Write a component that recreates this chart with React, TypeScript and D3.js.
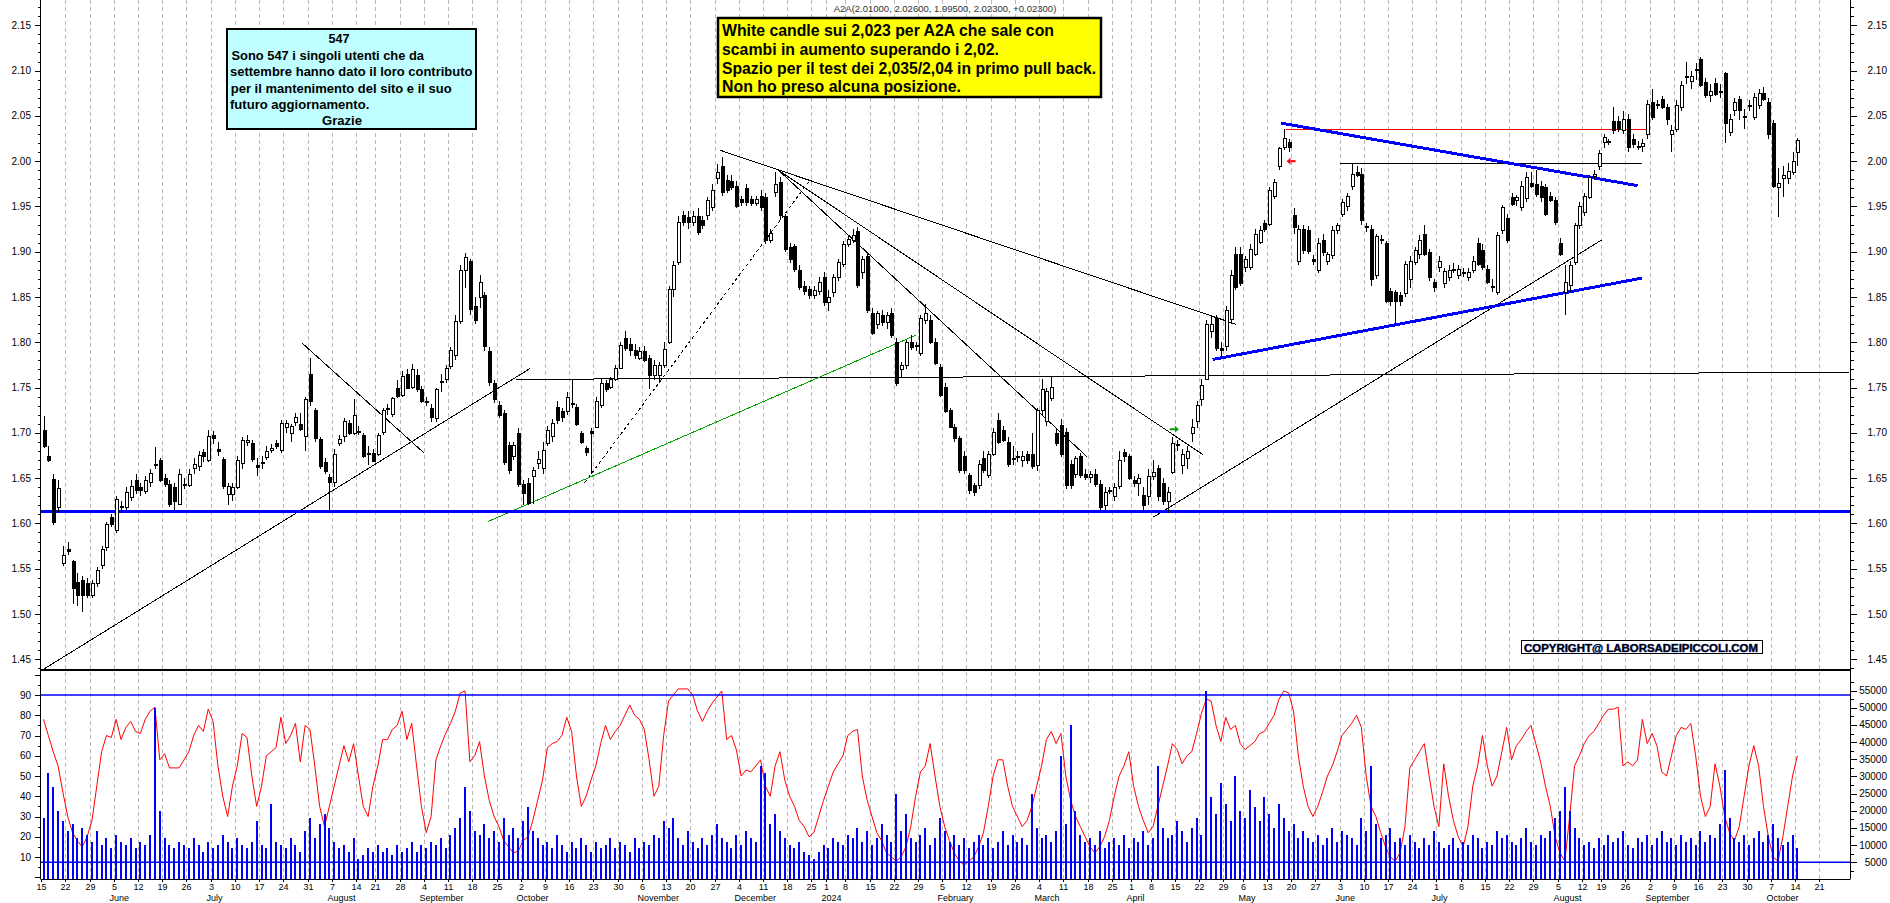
import React from 'react';
import { line, range, scaleLinear, timeDay, timeFormat, timeMonday } from 'd3';

// ---- data (prices in thousandths: open high low close) ----
const ohlcMayToAug2023 = `
1703 1719 1683 1685 | 1675 1685 1668 1670 | 1649 1655 1598 1602 | 1618 1648 1613 1639 | 1556 1575 1553 1565
1572 1580 1565 1570 | 1558 1560 1511 1529 | 1535 1545 1509 1521 | 1538 1542 1502 1521 | 1534 1540 1518 1521
1521 1538 1518 1534 | 1534 1552 1530 1549 | 1554 1575 1550 1572 | 1574 1602 1570 1599 | 1607 1610 1596 1599
1593 1630 1590 1627 | 1618 1625 1612 1619 | 1618 1640 1615 1635 | 1629 1648 1625 1641 | 1648 1655 1632 1637
1640 1645 1630 1637 | 1636 1652 1632 1648 | 1646 1660 1640 1656 | 1664 1684 1660 1666 | 1670 1672 1646 1648
1650 1655 1640 1644 | 1644 1648 1618 1622 | 1640 1645 1615 1625 | 1622 1660 1620 1655 | 1642 1650 1638 1644
1642 1660 1640 1655 | 1661 1672 1655 1666 | 1663 1680 1658 1676 | 1679 1682 1668 1674 | 1670 1703 1668 1697
1698 1702 1688 1694 | 1682 1690 1675 1680 | 1671 1673 1638 1641 | 1633 1645 1620 1641 | 1633 1645 1625 1640
1640 1675 1638 1670 | 1667 1695 1660 1692 | 1690 1698 1685 1692 | 1689 1692 1668 1671 | 1665 1672 1652 1662
1668 1675 1660 1667 | 1673 1685 1670 1680 | 1681 1688 1678 1683 | 1689 1692 1682 1685 | 1681 1714 1678 1711
1706 1714 1700 1711 | 1700 1710 1690 1708 | 1712 1722 1708 1717 | 1710 1722 1702 1704 | 1697 1740 1680 1737
1765 1783 1730 1735 | 1725 1728 1690 1694 | 1693 1695 1660 1663 | 1668 1672 1655 1658 | 1651 1655 1612 1646
1646 1682 1640 1677 | 1689 1698 1685 1693 | 1696 1716 1690 1713 | 1711 1714 1698 1700 | 1700 1737 1698 1720
1702 1708 1698 1702 | 1698 1700 1672 1674 | 1678 1685 1665 1678 | 1678 1682 1668 1669 | 1677 1700 1675 1698
1701 1728 1698 1725 | 1726 1732 1720 1728 | 1721 1740 1718 1738 | 1750 1758 1738 1741 | 1742 1768 1740 1763
1765 1770 1748 1750 | 1751 1776 1748 1770 | 1764 1770 1745 1748 | 1748 1752 1733 1735 | 1735 1740 1730 1735
`;

const ohlcSepToDec2023 = `
1728 1732 1712 1718 | 1716 1750 1712 1748 | 1757 1765 1745 1757 | 1760 1775 1755 1772 | 1774 1795 1770 1791
1786 1830 1780 1824 | 1824 1885 1820 1880 | 1880 1899 1860 1894 | 1890 1892 1830 1837 | 1840 1850 1820 1825
1850 1874 1838 1867 | 1852 1855 1790 1796 | 1790 1795 1752 1756 | 1755 1758 1733 1737 | 1731 1735 1716 1720
1722 1725 1665 1668 | 1687 1690 1655 1659 | 1674 1690 1670 1687 | 1700 1705 1640 1644 | 1644 1648 1620 1634
1645 1650 1620 1623 | 1652 1662 1622 1659 | 1667 1680 1660 1671 | 1661 1690 1655 1681 | 1689 1708 1685 1703
1696 1715 1690 1711 | 1729 1735 1710 1714 | 1724 1728 1712 1718 | 1724 1745 1720 1740 | 1733 1760 1728 1733
1729 1732 1708 1710 | 1700 1702 1688 1690 | 1683 1686 1675 1679 | 1702 1705 1655 1700 | 1707 1740 1705 1735
1731 1760 1728 1755 | 1755 1758 1745 1748 | 1751 1762 1748 1759 | 1760 1775 1757 1772 | 1772 1800 1770 1797
1805 1812 1790 1794 | 1798 1805 1785 1792 | 1792 1798 1782 1786 | 1783 1795 1780 1790 | 1790 1796 1778 1780
1783 1786 1748 1764 | 1764 1780 1758 1775 | 1764 1778 1755 1775 | 1775 1800 1772 1793 | 1800 1862 1798 1859
1859 1890 1850 1885 | 1889 1940 1885 1933 | 1940 1945 1928 1933 | 1938 1945 1925 1933 | 1933 1945 1928 1939
1939 1948 1918 1922 | 1935 1940 1925 1930 | 1940 1960 1935 1957 | 1949 1975 1945 1968 | 1981 1997 1975 1988
1995 2005 1962 1966 | 1979 1985 1965 1968 | 1978 1985 1968 1972 | 1973 1978 1948 1951 | 1958 1962 1950 1955
1970 1975 1950 1955 | 1958 1962 1950 1954 | 1954 1962 1950 1958 | 1962 1968 1945 1949 | 1960 1965 1908 1913
1913 1925 1910 1921 | 1966 1988 1960 1975 | 1977 1982 1935 1940 | 1939 1942 1900 1903 | 1905 1910 1888 1892
1906 1908 1878 1881 | 1880 1885 1858 1861 | 1862 1868 1852 1857 | 1859 1862 1848 1852 | 1852 1862 1848 1858
1857 1872 1852 1867 | 1872 1878 1840 1845
`;

const ohlcJanToApr2024 = `
1845 1858 1835 1850 | 1855 1875 1850 1872 | 1872 1892 1868 1889 | 1887 1912 1883 1909 | 1909 1918 1905 1914
1913 1925 1910 1919 | 1923 1927 1860 1863 | 1878 1895 1870 1892 | 1895 1898 1832 1836 | 1832 1838 1808 1810
1820 1835 1815 1832 | 1830 1836 1818 1822 | 1822 1834 1815 1830 | 1832 1838 1805 1808 | 1800 1805 1752 1755
1770 1778 1762 1775 | 1775 1802 1770 1800 | 1800 1808 1792 1795 | 1797 1800 1790 1796 | 1788 1830 1785 1827
1825 1842 1820 1832 | 1825 1830 1798 1800 | 1800 1805 1775 1777 | 1773 1776 1740 1742 | 1751 1755 1722 1724
1725 1728 1705 1707 | 1707 1710 1690 1694 | 1694 1697 1656 1659 | 1675 1680 1655 1659 | 1653 1656 1633 1637
1642 1645 1630 1635 | 1642 1670 1638 1666 | 1672 1680 1656 1659 | 1653 1680 1650 1677 | 1677 1705 1674 1701
1714 1722 1688 1690 | 1703 1708 1690 1692 | 1690 1695 1662 1666 | 1672 1685 1665 1672 | 1674 1680 1668 1674
1670 1680 1662 1674 | 1677 1680 1666 1670 | 1677 1700 1660 1663 | 1665 1728 1658 1725 | 1725 1760 1720 1748
1713 1750 1708 1746 | 1738 1762 1735 1751 | 1700 1705 1686 1689 | 1709 1715 1673 1677 | 1701 1705 1638 1642
1666 1670 1638 1642 | 1655 1675 1650 1672 | 1674 1678 1650 1653 | 1655 1660 1648 1651 | 1651 1658 1645 1655
1655 1660 1640 1644 | 1644 1648 1615 1618 | 1620 1640 1615 1635 | 1637 1640 1632 1637 | 1630 1645 1625 1640
1641 1680 1638 1670 | 1679 1682 1668 1674 | 1674 1677 1648 1650 | 1648 1652 1640 1645 | 1645 1655 1630 1650
1631 1640 1611 1620 | 1630 1660 1620 1652 | 1652 1670 1648 1657 | 1661 1665 1625 1630 | 1645 1650 1620 1625
1625 1640 1612 1635 | 1657 1695 1655 1689 | 1688 1692 1680 1688 | 1665 1682 1655 1677 | 1672 1685 1660 1680
1700 1715 1690 1707 | 1713 1735 1705 1731 | 1737 1760 1730 1753 | 1760 1825 1758 1820 | 1812 1830 1805 1820
1827 1830 1790 1794 | 1794 1800 1785 1792
`;

const ohlcMayToOct2024 = `
1796 1840 1790 1836 | 1826 1880 1820 1874 | 1898 1905 1858 1861 | 1898 1905 1862 1865 | 1883 1895 1878 1892
1883 1908 1880 1903 | 1898 1925 1895 1920 | 1911 1928 1908 1924 | 1932 1935 1922 1925 | 1931 1972 1928 1968
1962 1980 1958 1977 | 1995 2016 1990 2014 | 2016 2036 2012 2026 | 2021 2025 2010 2016 | 1940 1948 1920 1927
1890 1930 1885 1925 | 1925 1930 1898 1902 | 1924 1928 1898 1901 | 1892 1896 1885 1890 | 1880 1915 1876 1910
1913 1920 1895 1900 | 1890 1900 1885 1898 | 1896 1928 1892 1924 | 1924 1932 1920 1930 | 1942 1958 1938 1955
1951 1965 1945 1962 | 1973 1998 1968 1986 | 1988 1995 1982 1985 | 1986 1992 1930 1935 | 1928 1932 1922 1927
1925 1930 1862 1870 | 1874 1920 1870 1917 | 1914 1918 1908 1913 | 1910 1912 1843 1846 | 1857 1860 1840 1846
1855 1858 1818 1846 | 1852 1855 1840 1846 | 1854 1890 1850 1887 | 1870 1895 1860 1890 | 1889 1905 1885 1902
1898 1918 1892 1913 | 1920 1930 1895 1898 | 1900 1903 1868 1872 | 1867 1870 1855 1861 | 1883 1895 1878 1890
1865 1882 1860 1879 | 1872 1885 1868 1880 | 1881 1888 1876 1881 | 1874 1885 1870 1881 | 1878 1882 1872 1877
1872 1882 1868 1878 | 1880 1895 1876 1890 | 1910 1915 1884 1887 | 1902 1908 1880 1883 | 1881 1885 1864 1867
1862 1870 1855 1861 | 1856 1922 1852 1918 | 1924 1952 1920 1949 | 1937 1942 1910 1913 | 1960 1965 1950 1953
1957 1963 1950 1960 | 1949 1978 1945 1973 | 1959 1988 1955 1982 | 1976 1988 1970 1973 | 1975 1990 1960 1964
1973 1978 1955 1960 | 1971 1975 1940 1942 | 1962 1966 1955 1957 | 1957 1960 1930 1933 | 1910 1915 1895 1898
1856 1885 1830 1867 | 1863 1890 1855 1885 | 1889 1932 1885 1929 | 1929 1955 1925 1951 | 1944 1965 1940 1962
1960 1985 1958 1982 | 1984 1990 1980 1986 | 1995 2012 1990 2009 | 2021 2030 2015 2027 | 2022 2025 2018 2022
2044 2060 2030 2034 | 2044 2050 2032 2035 | 2034 2055 2030 2047 | 2047 2052 2010 2016 | 2025 2030 2015 2019
2017 2022 2012 2017 | 2017 2025 2010 2020 | 2030 2068 2025 2063 | 2065 2080 2045 2049 | 2063 2068 2058 2063
2069 2072 2058 2060 | 2060 2063 2040 2046 | 2030 2040 2010 2034 | 2036 2068 2032 2062 | 2060 2088 2055 2084
2094 2110 2085 2093 | 2089 2100 2080 2094 | 2102 2108 2090 2102 | 2113 2115 2082 2084 | 2087 2092 2070 2073
2073 2085 2065 2078 | 2086 2092 2072 2074 | 2078 2085 2070 2078 | 2097 2098 2020 2042 | 2032 2052 2028 2047
2057 2070 2050 2065 | 2069 2072 2045 2056 | 2050 2058 2035 2049 | 2062 2068 2055 2062 | 2049 2075 2045 2071
2062 2080 2058 2075 | 2075 2082 2066 2069 | 2065 2070 2025 2030 | 2042 2045 1970 1973 | 1971 1992 1938 1976
1981 1995 1960 1985 | 1981 1998 1975 1989 | 1988 2010 1985 2000 | 2010 2026 1995 2023
`;

// daily volume, thousands of shares
const volume2023 = [
  18, 31, 27, 20, 17, 14, 16, 12, 15, 13, 11, 14, 10, 12, 9, 13, 11, 10, 12, 9,
  11, 10, 13, 50, 20, 12, 10, 9, 11, 10, 9, 12, 10, 8, 11, 9, 10, 13, 11, 9,
  12, 10, 9, 11, 17, 10, 9, 22, 11, 10, 9, 12, 10, 8, 14, 18, 12, 16, 19, 15,
  11, 9, 10, 8, 12, 6, 7, 9, 8, 10, 8, 9, 7, 10, 8, 9, 11, 8, 10, 9,
  11, 10, 12, 9, 13, 15, 18, 27, 20, 14, 13, 16, 12, 14, 11, 18, 13, 15, 12, 17,
  21, 14, 12, 10, 11, 9, 13, 10, 8, 11, 9, 12, 10, 8, 11, 9, 10, 12, 9, 11,
  10, 8, 12, 9, 11, 10, 13, 12, 17, 15, 18, 12, 10, 14, 11, 9, 12, 10, 13, 16,
  12, 11, 9, 13, 10, 14, 12, 11, 33, 31, 16, 19, 14, 12, 10, 9, 11, 8, 7, 6,
  8, 10,
];
const volume2024 = [
  9, 12, 11, 10, 13, 12, 15, 11,
  14, 10, 12, 16, 13, 11, 25, 14, 19, 12, 11, 13, 15, 10, 12, 18, 14, 11, 13, 10,
  12, 9, 11, 13, 10, 12, 9, 11, 14, 10, 13, 11, 12, 10, 25, 15, 12, 13, 11, 14,
  36, 16, 45, 20, 13, 11, 12, 10, 14, 9, 11, 12, 10, 13, 9, 12, 11, 14, 10, 12,
  33, 15, 12, 13, 17, 14, 11, 15, 18, 13, 55, 24, 19, 28, 22, 17, 30, 20, 18, 26,
  21, 17, 24, 19, 15, 22, 18, 14, 16, 12, 14, 12, 11, 13, 10, 12, 15, 11, 14, 13,
  12, 10, 18, 14, 33, 16, 12, 13, 15, 11, 12, 10, 13, 11, 9, 12, 10, 14, 11, 9,
  10, 12, 9, 11, 10, 13, 12, 9, 11, 10, 14, 12, 13, 11, 10, 12, 15, 11, 10, 13,
  12, 14, 18, 20, 27, 20, 15, 12, 10, 11, 9, 12, 10, 13, 11, 12, 14, 10, 9, 12,
  11, 13, 10, 12, 14, 11, 12, 10, 13, 11, 12, 10, 14, 11, 13, 12, 16, 32, 18, 12,
  11, 13, 10, 12, 14, 11, 13, 16, 12, 10, 11, 13, 9,
];

// oscillator (red line), one value per session
const oscillator2023 = [
  78, 70, 62, 55, 42, 30, 22, 18, 15, 20, 28, 45, 62, 70, 69, 78, 68, 74, 77, 72,
  71, 78, 82, 84, 58, 61, 54, 54, 54, 58, 62, 70, 75, 72, 83, 77, 55, 40, 30, 45,
  55, 71, 69, 50, 35, 45, 60, 62, 64, 79, 66, 70, 76, 57, 75, 73, 55, 35, 25, 35,
  45, 55, 65, 57, 66, 50, 35, 30, 45, 55, 68, 68, 73, 75, 82, 68, 76, 55, 35, 22,
  30, 58, 65, 71, 76, 82, 91, 92, 57, 60, 67, 50, 38, 30, 25, 18, 15, 12, 13, 18,
  20, 28, 38, 48, 64, 66, 67, 70, 79, 72, 50, 35, 40, 48, 55, 66, 75, 68, 72, 75,
  80, 85, 80, 78, 73, 58, 40, 45, 70, 87, 90, 93, 93, 93, 90, 82, 77, 82, 86, 89,
  92, 68, 70, 63, 50, 53, 52, 55, 58, 45, 40, 55, 62, 48, 40, 35, 28, 25, 20, 22,
  30, 38,
];
const oscillator2024 = [
  45, 52, 56, 60, 70, 72, 73, 50,
  38, 30, 22, 18, 12, 10, 8, 10, 15, 25, 40, 52, 55, 66, 50, 35, 25, 18, 12, 8,
  6, 8, 10, 15, 22, 35, 50, 58, 58, 45, 35, 30, 25, 28, 35, 45, 55, 68, 72, 66,
  71, 50, 38, 30, 25, 20, 15, 12, 15, 20, 28, 40, 50, 55, 62, 45, 35, 28, 22, 25,
  35, 45, 55, 66, 63, 56, 60, 62, 71, 81, 88, 87, 75, 67, 79, 73, 75, 66, 63, 65,
  67, 71, 72, 76, 80, 88, 92, 91, 82, 60, 45, 35, 30, 35, 42, 50, 55, 62, 70, 73,
  76, 80, 74, 50, 35, 30, 22, 15, 10, 8, 12, 25, 54, 58, 62, 66, 50, 35, 25, 56,
  40, 28, 20, 15, 25, 45, 55, 70, 55, 45, 50, 62, 74, 58, 65, 68, 72, 75, 66, 57,
  45, 35, 20, 12, 8, 30, 55, 60, 66, 70, 72, 76, 80, 83, 83, 84, 55, 57, 55, 58,
  78, 66, 71, 65, 52, 50, 60, 70, 74, 73, 76, 60, 40, 30, 35, 56, 45, 30, 22, 18,
  25, 40, 55, 65, 55, 35, 20, 10, 8, 20, 35, 50, 60,
];

const priceTicks = [1.45, 1.5, 1.55, 1.6, 1.65, 1.7, 1.75, 1.8, 1.85, 1.9, 1.95, 2.0, 2.05, 2.1, 2.15];
const oscTicks = [10, 20, 30, 40, 50, 60, 70, 80, 90];
const volumeTicks = [5000, 10000, 15000, 20000, 25000, 30000, 35000, 40000, 45000, 50000, 55000];
const holidays = ['2023-08-15', '2023-12-25', '2023-12-26', '2024-01-01', '2024-03-29', '2024-04-01', '2024-05-01', '2024-08-15'];

// drawn lines: [session index, price, session index, price]
const thinLines = [
  [-0.3, 1.438, 100.4, 1.771],
  [53.4, 1.799, 78.5, 1.678],
  [97.6, 1.759, 372.7, 1.767],
  [139.7, 2.012, 246.1, 1.82],
  [151.7, 1.99, 239.3, 1.676],
  [151.7, 1.99, 215.3, 1.674],
  [229.1, 1.607, 321.6, 1.913],
  [267.6, 1.997, 329.9, 1.997],
];
const dashedLines = [[111.7, 1.645, 158.2, 1.979]];
const greenLines = [[91.7, 1.602, 180.1, 1.808]];
const blueLines = [
  [241.3, 1.781, 330, 1.871],
  [255.4, 2.042, 329, 1.973],
];
const redLines = [[256.4, 2.035, 330.8, 2.035]];
const supportPrice = 1.613;
const greenArrow = [233.3, 1.704];
const redArrow = [257.6, 2.0];
const oscUpper = 90;
const volumeFloor = 5000;

const title = 'A2A(2.01000, 2.02600, 1.99500, 2.02300, +0.02300)';
const yellowNote = [
  'White candle sui 2,023 per A2A che sale con',
  'scambi in aumento superando i 2,02.',
  'Spazio per il test dei 2,035/2,04 in primo pull back.',
  'Non ho preso alcuna posizione.',
];
const cyanNote = [
  '547',
  'Sono 547 i singoli utenti che da',
  'settembre hanno dato il loro contributo',
  'per il mantenimento  del sito e il suo',
  'futuro aggiornamento.',
  'Grazie',
];
const copyright = 'COPYRIGHT@ LABORSADEIPICCOLI.COM';

// ---- helpers ----
const parseOhlc = (block: string) =>
  block
    .split(/[|\n]/)
    .map((s) => s.trim())
    .filter(Boolean)
    .map((s) => {
      const [o, h, l, c] = s.split(/\s+/).map((v) => Number(v) / 1000);
      return { o, h, l, c };
    });

const candles = [ohlcMayToAug2023, ohlcSepToDec2023, ohlcJanToApr2024, ohlcMayToOct2024].flatMap(parseOhlc);
const volumes = [...volume2023, ...volume2024].map((v) => v * 1000);
const oscillator = [...oscillator2023, ...oscillator2024];

const W = 1890;
const H = 903;
const LEFT = 40.5;
const RIGHT = 1850.5;
const SEP = 670;
const BOTTOM = 879;
const FONT = "'Liberation Sans', Arial, Helvetica, sans-serif";

const x = scaleLinear().domain([0, 362]).range([43.5, 1797.4]);
const yPrice = scaleLinear().domain([1.45, 2.15]).range([659.3, 25.3]);
const yOsc = scaleLinear().domain([10, 90]).range([857, 695]);
const yVol = scaleLinear().domain([0, 55000]).range([879.3, 690.7]);

const isoDay = timeFormat('%Y-%m-%d');
const monthName = timeFormat('%B');
const sessions = timeDay
  .range(new Date(2023, 4, 15), new Date(2024, 9, 26))
  .filter((d) => d.getDay() !== 0 && d.getDay() !== 6 && !holidays.includes(isoDay(d)));
const weeks = timeMonday.range(new Date(2023, 4, 15), new Date(2024, 9, 22)).map((m) => ({
  monday: m,
  index: sessions.findIndex((d) => d >= m),
}));

const px = (i: number) => Math.round(x(i)) + 0.5;

const Segments = ({ data, stroke, width = 1, dash }: { data: number[][]; stroke: string; width?: number; dash?: string }) => (
  <>
    {data.map(([i1, p1, i2, p2], k) => (
      <line
        key={k}
        x1={x(i1)}
        y1={yPrice(p1)}
        x2={x(i2)}
        y2={yPrice(p2)}
        stroke={stroke}
        strokeWidth={width}
        strokeDasharray={dash}
      />
    ))}
  </>
);

const Candles = () => (
  <g shapeRendering="crispEdges">
    {candles.map((c, i) => {
      const cx = px(i);
      const top = Math.round(yPrice(Math.max(c.o, c.c))) + 0.5;
      const bot = Math.round(yPrice(Math.min(c.o, c.c))) + 0.5;
      return (
        <g key={i}>
          <line x1={cx} x2={cx} y1={yPrice(c.h)} y2={yPrice(c.l)} stroke="#000" />
          <rect
            x={cx - 1.5}
            y={top}
            width={3}
            height={Math.max(1, bot - top)}
            fill={c.c >= c.o ? '#fff' : '#000'}
            stroke="#000"
          />
        </g>
      );
    })}
  </g>
);

const Axes = () => {
  const priceMinor = range(144, 218).map((v) => v / 100);
  const oscMinor = range(0, 101, 5);
  const volMinor = range(0, 57501, 2500);
  return (
    <g fontFamily={FONT} fontSize={10} fill="#000">
      <line x1={LEFT} x2={LEFT} y1={0} y2={BOTTOM} stroke="#000" />
      <line x1={RIGHT} x2={RIGHT} y1={0} y2={BOTTOM} stroke="#000" />
      <g shapeRendering="crispEdges" stroke="#000">
        {priceMinor.map((p) => {
          const major = Math.round(p * 100) % 5 === 0;
          const y = Math.round(yPrice(p)) + 0.5;
          return (
            <g key={p}>
              <line x1={LEFT - (major ? 6 : 3)} x2={LEFT} y1={y} y2={y} />
              <line x1={RIGHT} x2={RIGHT + (major ? 6 : 3)} y1={y} y2={y} />
            </g>
          );
        })}
        {oscMinor
          .filter((v) => yOsc(v) > SEP + 2 && yOsc(v) < BOTTOM)
          .map((v) => {
            const y = Math.round(yOsc(v)) + 0.5;
            return <line key={v} x1={LEFT - (v % 10 === 0 ? 6 : 3)} x2={LEFT} y1={y} y2={y} />;
          })}
        {volMinor
          .filter((v) => yVol(v) > SEP + 2 && yVol(v) < BOTTOM)
          .map((v) => {
            const y = Math.round(yVol(v)) + 0.5;
            return <line key={v} x1={RIGHT} x2={RIGHT + (v % 5000 === 0 ? 6 : 3)} y1={y} y2={y} />;
          })}
      </g>
      {priceTicks.map((p) => (
        <g key={p}>
          <text x={31} y={yPrice(p) + 3.5} textAnchor="end">
            {p.toFixed(2)}
          </text>
          <text x={1887} y={yPrice(p) + 3.5} textAnchor="end">
            {p.toFixed(2)}
          </text>
        </g>
      ))}
      {oscTicks.map((v) => (
        <text key={v} x={31} y={yOsc(v) + 3.5} textAnchor="end">
          {v}
        </text>
      ))}
      {volumeTicks.map((v) => (
        <text key={v} x={1887} y={yVol(v) + 3.5} textAnchor="end">
          {v}
        </text>
      ))}
    </g>
  );
};

const DateAxis = () => (
  <g fontFamily={FONT} fontSize={9} fill="#000">
    <line x1={LEFT} x2={RIGHT} y1={BOTTOM + 0.5} y2={BOTTOM + 0.5} stroke="#000" />
    {weeks.map(({ monday, index }) => {
      const gx = Math.round(x(index - 0.5)) + 0.5;
      return (
        <g key={+monday}>
          <line x1={gx} x2={gx} y1={BOTTOM} y2={BOTTOM + 3} stroke="#000" shapeRendering="crispEdges" />
          <text x={gx} y={890} textAnchor="middle">
            {monday.getDate()}
          </text>
          {monday.getDate() <= 7 && (
            <text x={gx - 5} y={901}>
              {monday.getMonth() === 0 ? String(monday.getFullYear()) : monthName(monday)}
            </text>
          )}
        </g>
      );
    })}
  </g>
);

const Grid = () => (
  <g stroke="#b9b9b9" strokeDasharray="4,3" shapeRendering="crispEdges">
    {weeks
      .map(({ index }) => Math.round(x(index - 0.5)) + 0.5)
      .filter((gx) => gx > LEFT + 3 && gx < RIGHT - 2)
      .map((gx) => (
        <line key={gx} x1={gx} x2={gx} y1={0} y2={BOTTOM} />
      ))}
  </g>
);

const LowerPanel = () => {
  const oscPath = line<number>()
    .x((_, i) => x(i))
    .y((v) => yOsc(v))(oscillator);
  return (
    <g>
      <path d={oscPath ?? ''} fill="none" stroke="#ff0000" strokeWidth={1} />
      <g stroke="#0000ff" strokeWidth={2} shapeRendering="crispEdges">
        {volumes.map((v, i) => (
          <line key={i} x1={Math.round(x(i))} x2={Math.round(x(i))} y1={yVol(0)} y2={yVol(v)} />
        ))}
      </g>
      <line x1={LEFT} x2={RIGHT} y1={yOsc(oscUpper)} y2={yOsc(oscUpper)} stroke="#0000ff" strokeWidth={1.5} />
      <line x1={LEFT} x2={RIGHT} y1={yVol(volumeFloor)} y2={yVol(volumeFloor)} stroke="#0000ff" strokeWidth={1.5} />
    </g>
  );
};

const Arrow = ({ at, dir, color }: { at: number[]; dir: 1 | -1; color: string }) => {
  const cx = x(at[0]);
  const cy = yPrice(at[1]);
  return (
    <g>
      <line x1={cx - 4 * dir} x2={cx + 1 * dir} y1={cy} y2={cy} stroke={color} strokeWidth={2} />
      <polygon points={`${cx + dir},${cy - 3.5} ${cx + 5 * dir},${cy} ${cx + dir},${cy + 3.5}`} fill={color} />
    </g>
  );
};

const Notes = () => {
  const yellowWidths = [332, 277, 374, 239];
  const yellowBase = [36, 55, 73.5, 92];
  const cyanLayout = [
    { x: 339, w: 21, anchor: 'middle' },
    { x: 231.5, w: 192.5, anchor: 'start' },
    { x: 230, w: 242.5, anchor: 'start' },
    { x: 230.8, w: 220.8, anchor: 'start' },
    { x: 230, w: 139.3, anchor: 'start' },
    { x: 342, w: 40, anchor: 'middle' },
  ];
  const cyanBase = [43, 59.5, 76, 92.5, 108.5, 125];
  return (
    <g fontFamily={FONT} fontWeight="bold">
      <text x={945} y={12} textAnchor="middle" fontSize={9.5} fontWeight="normal" fill="#333">
        {title}
      </text>
      <rect x={718} y={18} width={383} height={79} fill="#ffff00" stroke="#000" strokeWidth={2.5} />
      {yellowNote.map((t, k) => (
        <text key={k} x={722} y={yellowBase[k]} fontSize={16.5} textLength={yellowWidths[k]} lengthAdjust="spacingAndGlyphs">
          {t}
        </text>
      ))}
      <rect x={227} y={29} width={249} height={100} fill="#c0ffff" stroke="#000" strokeWidth={2} />
      {cyanNote.map((t, k) => (
        <text
          key={k}
          x={cyanLayout[k].x}
          y={cyanBase[k]}
          fontSize={13.5}
          textAnchor={cyanLayout[k].anchor}
          textLength={cyanLayout[k].w}
          lengthAdjust="spacingAndGlyphs"
        >
          {t}
        </text>
      ))}
      <rect x={1521.5} y={640.5} width={241} height={13} fill="#fff" stroke="#000" />
      <text
        x={1524}
        y={651.5}
        fontSize={11}
        textLength={234}
        lengthAdjust="spacingAndGlyphs"
        fill="#000"
        stroke="#3a4fd0"
        strokeWidth={0.6}
        paintOrder="stroke"
      >
        {copyright}
      </text>
    </g>
  );
};

export default function App() {
  return (
    <svg width={W} height={H} viewBox={`0 0 ${W} ${H}`} style={{ position: 'absolute', left: 0, top: 0, background: '#fff' }}>
      <defs>
        <clipPath id="pricePanel">
          <rect x={LEFT} y={0} width={RIGHT - LEFT} height={SEP} />
        </clipPath>
        <clipPath id="lowerPanel">
          <rect x={LEFT + 0.5} y={SEP + 1} width={RIGHT - LEFT - 1} height={BOTTOM - SEP - 1} />
        </clipPath>
      </defs>
      <rect width={W} height={H} fill="#fff" />
      <Grid />
      <g clipPath="url(#pricePanel)">
        <g shapeRendering="crispEdges">
          <Segments data={thinLines} stroke="#000" />
          <Segments data={dashedLines} stroke="#000" dash="3,3" />
          <Segments data={greenLines} stroke="#00a000" />
          <Segments data={redLines} stroke="#ff0000" />
          <line x1={LEFT} x2={RIGHT} y1={yPrice(supportPrice)} y2={yPrice(supportPrice)} stroke="#0000ff" strokeWidth={3} />
          <Segments data={blueLines} stroke="#0000ff" width={3} />
        </g>
        <Candles />
        <Arrow at={greenArrow} dir={1} color="#00a000" />
        <Arrow at={redArrow} dir={-1} color="#ff0000" />
      </g>
      <g clipPath="url(#lowerPanel)">
        <LowerPanel />
      </g>
      <line x1={LEFT} x2={RIGHT} y1={SEP} y2={SEP} stroke="#000" strokeWidth={2} />
      <Axes />
      <DateAxis />
      <Notes />
    </svg>
  );
}
